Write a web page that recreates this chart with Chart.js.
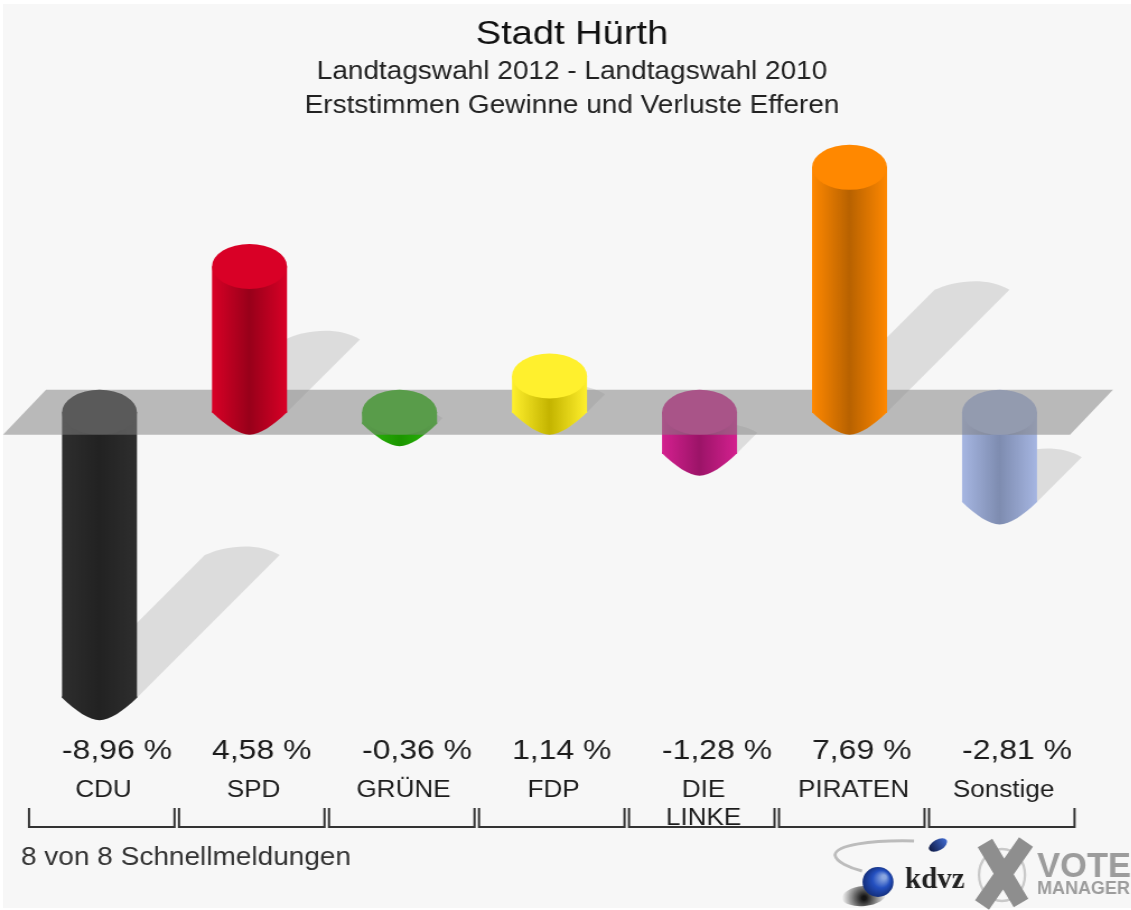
<!DOCTYPE html>
<html lang="de">
<head>
<meta charset="utf-8">
<title>Stadt Hürth</title>
<script src="https://cdn.jsdelivr.net/npm/chart.js@4"></script>
<style>
    html, body { margin: 0; background: #fff; overflow: hidden; }
    #plate { position: absolute; left: 3px; top: 4px; right: 0; height: 904px; background: #f7f7f7; }
    /* the original picture is stretched sideways and soft, so the canvas is too */
    #wrap { position: absolute; left: 0; top: 0; width: 1010px; height: 910px; transform-origin: 0 0; transform: scaleX(1.12); filter: blur(0.6px); }
</style>
</head>
<body>
<div id="plate"></div>
<div id="wrap"><canvas id="chart" width="1010" height="910"></canvas></div>
<script>
const parties = ['CDU', 'SPD', 'GRÜNE', 'FDP', ['DIE', 'LINKE'], 'PIRATEN', 'Sonstige'];
const values = [-8.96, 4.58, -0.36, 1.14, -1.28, 7.69, -2.81];
const valueLabels = ['-8,96 %', '4,58 %', '-0,36 %', '1,14 %', '-1,28 %', '7,69 %', '-2,81 %'];
const edgeColors = ['#2e2e2e', '#d90026', '#2cba0c', '#fff02d', '#d4208f', '#ff8800', '#a6b6e2'];
const coreColors = ['#222222', '#98001a', '#1c9600', '#c4b400', '#9c1468', '#b86200', '#7e8cb0'];

const SX = 1.12;
const CAP_RX = 37.5 / SX;
const CAP_RY = 22.5;
const FONT = '"Liberation Sans", Arial, sans-serif';

function columnGradient(ctx, i, x) {
    const g = ctx.createLinearGradient(x - CAP_RX, 0, x + CAP_RX, 0);
    g.addColorStop(0, edgeColors[i]);
    g.addColorStop(0.5, coreColors[i]);
    g.addColorStop(1, edgeColors[i]);
    return g;
}

function bodyGradient(context) {
    const chart = context.chart;
    const i = context.dataIndex;
    const x = chart.scales.x ? chart.scales.x.getPixelForValue(i) : NaN;
    // options get resolved once before the layout exists
    if (!Number.isFinite(x)) return edgeColors[i] || '#000';
    return columnGradient(chart.ctx, i, x);
}

function drawShadow(ctx, x, y, s) {
    const tipY = y - s;
    const dx = s / SX;
    const lx = x - CAP_RX + dx;
    const rx = x + CAP_RX + dx;
    ctx.beginPath();
    ctx.moveTo(x - CAP_RX, y);
    ctx.lineTo(lx, tipY);
    ctx.bezierCurveTo(lx + 16, tipY - 9, rx - 20, tipY - 14, rx, tipY);
    ctx.lineTo(x + CAP_RX, y);
    ctx.closePath();
    ctx.fill();
}

// rounded lower end of a column, a bit pointed like the original
function drawFoot(ctx, i, x, y) {
    const r = CAP_RX;
    ctx.fillStyle = columnGradient(ctx, i, x);
    ctx.beginPath();
    ctx.moveTo(x - r, y - 1.5);
    ctx.lineTo(x - r, y);
    ctx.bezierCurveTo(x - r * 0.64, y + 13, x - r * 0.27, y + CAP_RY, x, y + CAP_RY);
    ctx.bezierCurveTo(x + r * 0.27, y + CAP_RY, x + r * 0.64, y + 13, x + r, y);
    ctx.lineTo(x + r, y - 1.5);
    ctx.closePath();
    ctx.fill();
}

function drawCap(ctx, i, x, y) {
    ctx.fillStyle = edgeColors[i];
    ctx.beginPath();
    ctx.ellipse(x, y, CAP_RX, CAP_RY, 0, 0, Math.PI * 2);
    ctx.fill();
}

function drawEnds(chart, negative) {
    const { ctx, scales } = chart;
    const y0 = scales.y.getPixelForValue(0);
    values.forEach((v, i) => {
        if ((v < 0) !== negative) return;
        const x = scales.x.getPixelForValue(i);
        const y = scales.y.getPixelForValue(v);
        drawFoot(ctx, i, x, Math.max(y, y0));
        drawCap(ctx, i, x, Math.min(y, y0));
    });
}

function drawBand(chart) {
    const { ctx, scales } = chart;
    const y0 = scales.y.getPixelForValue(0);
    ctx.fillStyle = 'rgba(131,131,131,0.53)';
    ctx.beginPath();
    ctx.moveTo(46 / SX, y0 - CAP_RY);
    ctx.lineTo(1113 / SX, y0 - CAP_RY);
    ctx.lineTo(1070 / SX, y0 + CAP_RY);
    ctx.lineTo(3 / SX, y0 + CAP_RY);
    ctx.closePath();
    ctx.fill();
}

// logo corner, coordinates are screen pixels
function drawLogos(ctx) {
    ctx.save();
    ctx.scale(1 / SX, 1);
    ctx.strokeStyle = '#bcbcbc';
    ctx.lineWidth = 3;
    ctx.beginPath();
    ctx.moveTo(914, 841);
    ctx.bezierCurveTo(870, 840, 836, 845, 835, 855);
    ctx.bezierCurveTo(836, 862, 850, 868, 862, 871);
    ctx.stroke();

    const shade = ctx.createRadialGradient(864, 898, 2, 864, 898, 22);
    shade.addColorStop(0, 'rgba(20,20,20,1)');
    shade.addColorStop(1, 'rgba(20,20,20,0)');
    ctx.fillStyle = shade;
    ctx.beginPath();
    ctx.ellipse(864, 896, 22, 10, -0.1, 0, Math.PI * 2);
    ctx.fill();

    const ball = ctx.createRadialGradient(884, 877, 2, 878, 882, 17);
    ball.addColorStop(0, '#8aa6e0');
    ball.addColorStop(0.45, '#2450c0');
    ball.addColorStop(1, '#10286e');
    ctx.fillStyle = ball;
    ctx.beginPath();
    ctx.ellipse(878, 882, 15.5, 15, 0, 0, Math.PI * 2);
    ctx.fill();

    const small = ctx.createLinearGradient(930, 850, 946, 840);
    small.addColorStop(0, '#101c48');
    small.addColorStop(1, '#3f68cc');
    ctx.fillStyle = small;
    ctx.beginPath();
    ctx.ellipse(938, 845, 10, 5.5, -0.5, 0, Math.PI * 2);
    ctx.fill();

    ctx.fillStyle = '#222';
    ctx.font = 'bold 29px "Liberation Serif", serif';
    ctx.textAlign = 'left';
    ctx.textBaseline = 'middle';
    ctx.fillText('kdvz', 905, 881);

    ctx.strokeStyle = '#c9c9c9';
    ctx.lineWidth = 2.5;
    ctx.beginPath();
    ctx.ellipse(1002, 875, 23, 26, 0, 0, Math.PI * 2);
    ctx.stroke();
    ctx.strokeStyle = '#8e8e8e';
    ctx.lineWidth = 17;
    ctx.beginPath();
    ctx.moveTo(985, 843);
    ctx.lineTo(1021, 903);
    ctx.moveTo(1026, 842);
    ctx.lineTo(982, 905);
    ctx.stroke();

    ctx.fillStyle = '#9c9c9c';
    ctx.font = 'bold 34.5px ' + FONT;
    ctx.fillText('VOTE', 1037, 867);
    ctx.font = 'bold 18px ' + FONT;
    ctx.fillText('MANAGER', 1037, 889);
    ctx.restore();
}

const columnPlugin = {
    id: 'columns',
    beforeDatasetsDraw(chart) {
        const { ctx, scales } = chart;
        const y0 = scales.y.getPixelForValue(0);
        ctx.save();
        ctx.fillStyle = 'rgba(0,0,0,0.105)';
        values.forEach((v, i) => {
            const y = scales.y.getPixelForValue(v);
            drawShadow(ctx, scales.x.getPixelForValue(i), Math.max(y, y0), Math.abs(y - y0) * 0.5);
        });
        ctx.restore();
    },
    // losses sit under the grey plate, gains stand on top of it
    beforeDatasetDraw(chart, args) {
        if (args.index !== 0) return;
        chart.ctx.save();
        drawBand(chart);
        chart.ctx.restore();
    },
    afterDatasetDraw(chart, args) {
        if (args.index !== 1) return;
        chart.ctx.save();
        drawEnds(chart, true);
        chart.ctx.restore();
    },
    afterDatasetsDraw(chart) {
        const { ctx, scales } = chart;
        ctx.save();
        drawEnds(chart, false);
        ctx.restore();

        ctx.save();
        ctx.textBaseline = 'middle';
        ctx.textAlign = 'left';
        ctx.fillStyle = '#1c1c1c';
        ctx.font = '28.5px ' + FONT;
        valueLabels.forEach((label, i) => {
            ctx.fillText(label, scales.x.getPixelForValue(i) - CAP_RX, 751);
        });

        ctx.strokeStyle = '#333';
        ctx.lineWidth = 2;
        parties.forEach((p, i) => {
            const x = scales.x.getPixelForValue(i);
            ctx.beginPath();
            ctx.moveTo(x - 70.5 / SX, 808);
            ctx.lineTo(x - 70.5 / SX, 827);
            ctx.lineTo(x + 75 / SX, 827);
            ctx.lineTo(x + 75 / SX, 808);
            ctx.stroke();
        });

        ctx.fillStyle = '#333';
        ctx.font = '25px ' + FONT;
        ctx.fillText('8 von 8 Schnellmeldungen', 21 / SX, 858);
        ctx.restore();

        drawLogos(ctx);
    }
};

new Chart(document.getElementById('chart'), {
    type: 'bar',
    data: {
        labels: parties,
        datasets: [
            {
                label: 'Gewinne',
                data: values.map(v => (v >= 0 ? v : null)),
                backgroundColor: bodyGradient,
                grouped: false
            },
            {
                label: 'Verluste',
                data: values.map(v => (v < 0 ? v : null)),
                backgroundColor: bodyGradient,
                grouped: false
            }
        ]
    },
    plugins: [columnPlugin],
    options: {
        responsive: false,
        animation: false,
        events: [],
        barPercentage: 0.5,
        categoryPercentage: 1,
        layout: { padding: { left: 11.4, right: 0, top: 0, bottom: 77.5 } },
        plugins: {
            legend: { display: false },
            tooltip: { enabled: false },
            title: {
                display: true,
                text: 'Stadt Hürth',
                color: '#111',
                font: { family: FONT, size: 34, weight: 'normal' },
                padding: { top: 14, bottom: 0 }
            },
            subtitle: {
                display: true,
                text: ['Landtagswahl 2012 - Landtagswahl 2010', 'Erststimmen Gewinne und Verluste Efferen'],
                color: '#222',
                font: { family: FONT, size: 25, weight: 'normal', lineHeight: 1.36 },
                padding: 0
            }
        },
        scales: {
            x: {
                grid: { display: false },
                border: { display: false },
                ticks: {
                    color: '#1c1c1c',
                    font: { family: FONT, size: 23.3 },
                    padding: 0,
                    labelOffset: 3.6,
                    autoSkip: false,
                    maxRotation: 0
                }
            },
            y: {
                min: -11.18,
                max: 9.088,
                grid: { display: false },
                border: { display: false },
                ticks: { display: false },
                afterFit(axis) { axis.width = 10.475; }
            },
            yPad: {
                position: 'right',
                grid: { display: false },
                border: { display: false },
                ticks: { display: false },
                afterFit(axis) { axis.width = 50.6; }
            }
        }
    }
});
</script>
</body>
</html>
